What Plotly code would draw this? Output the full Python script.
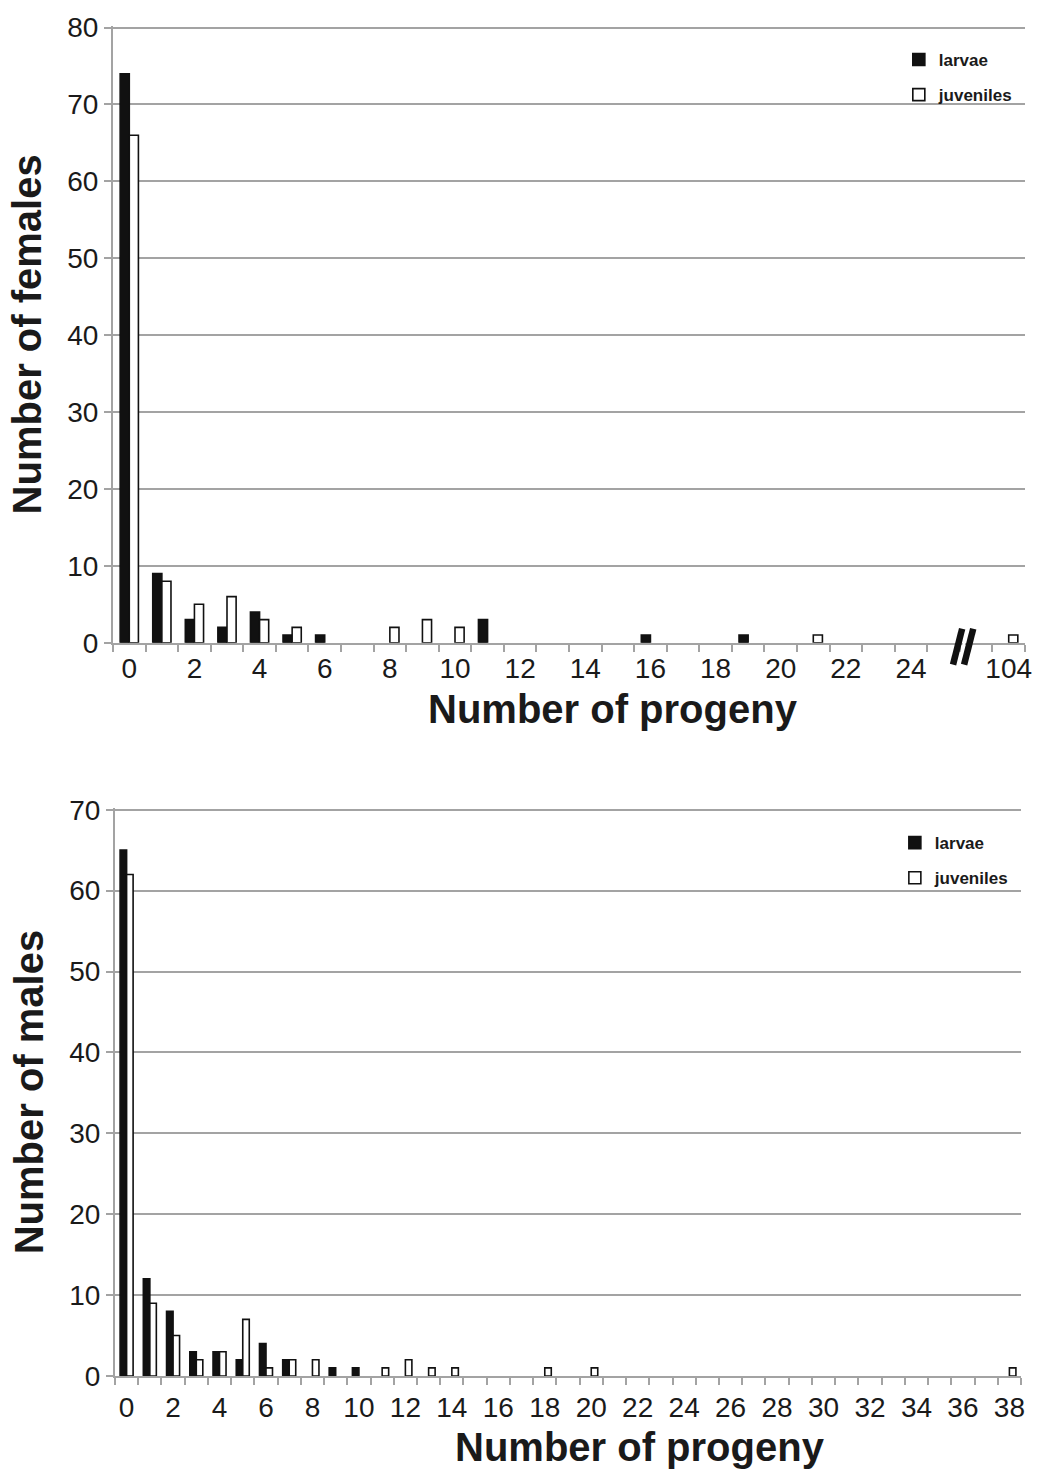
import plotly.graph_objects as go
from plotly.subplots import make_subplots

# ---------------- data ----------------
female_categories = [str(i) for i in range(27)] + ["104"]
female_larvae =    [74, 9, 3, 2, 4, 1, 1, 0, 0, 0, 0, 3, 0, 0, 0, 0, 1, 0, 0, 1, 0, 0, 0, 0, 0, 0, 0, 0]
female_juveniles = [66, 8, 5, 6, 3, 2, 0, 0, 2, 3, 2, 0, 0, 0, 0, 0, 0, 0, 0, 0, 0, 1, 0, 0, 0, 0, 0, 1]

male_categories = [str(i) for i in range(39)]
male_larvae =    [65, 12, 8, 3, 3, 2, 4, 2, 0, 1, 1, 0, 0, 0, 0, 0, 0, 0, 0, 0, 0, 0, 0, 0, 0, 0, 0, 0, 0, 0, 0, 0, 0, 0, 0, 0, 0, 0, 0]
male_juveniles = [62, 9, 5, 2, 3, 7, 1, 2, 2, 0, 0, 1, 2, 1, 1, 0, 0, 0, 1, 0, 1, 0, 0, 0, 0, 0, 0, 0, 0, 0, 0, 0, 0, 0, 0, 0, 0, 0, 1]

female_labels = ["0", "2", "4", "6", "8", "10", "12", "14", "16", "18", "20", "22", "24", "104"]
male_labels = [str(i) for i in range(0, 39, 2)]

# ---------------- style ----------------
FONT = "Liberation Sans, Arial, sans-serif"
TXT = "#1a1a1a"
GRID = "#a3a3a3"

W, H = 1044, 1470
ML, MR, MT, MB = 113, 13, 21, 94
PH = H - MT - MB
PW = W - ML - MR

top_domain = [1 - (640 - MT) / PH, 1.0]
bot_domain = [0.0, 1 - (806 - MT) / PH]
bot_xdomain = [(115 - ML) / PW, (1027 - ML) / PW]


def nz(values):
    # zero counts draw no bar (avoid outlines on the baseline)
    return [v if v else None for v in values]


fig = make_subplots(rows=2, cols=1)

fx = list(range(len(female_categories)))
mx = list(range(len(male_categories)))

bar_line = dict(color="#111111", width=1.6)

fig.add_trace(go.Bar(x=fx, y=nz(female_larvae), name="larvae", marker=dict(color="#111111", line=bar_line),
                     legend="legend", legendgroup="a", customdata=female_categories,
                     hovertemplate="%{customdata}: %{y}<extra>larvae</extra>"), row=1, col=1)
fig.add_trace(go.Bar(x=fx, y=nz(female_juveniles), name="juveniles", marker=dict(color="white", line=bar_line),
                     legend="legend", legendgroup="b", customdata=female_categories,
                     hovertemplate="%{customdata}: %{y}<extra>juveniles</extra>"), row=1, col=1)
fig.add_trace(go.Bar(x=mx, y=nz(male_larvae), name="larvae", marker=dict(color="#111111", line=bar_line),
                     legend="legend2", legendgroup="c", customdata=male_categories,
                     hovertemplate="%{customdata}: %{y}<extra>larvae</extra>"), row=2, col=1)
fig.add_trace(go.Bar(x=mx, y=nz(male_juveniles), name="juveniles", marker=dict(color="white", line=bar_line),
                     legend="legend2", legendgroup="d", customdata=male_categories,
                     hovertemplate="%{customdata}: %{y}<extra>juveniles</extra>"), row=2, col=1)

female_tickvals = [female_categories.index(l) for l in female_labels]
male_tickvals = [male_categories.index(l) for l in male_labels]

common_x = dict(showgrid=False, zeroline=False, showline=True, linecolor=GRID, linewidth=2,
                ticks="", tickfont=dict(family=FONT, size=28, color=TXT), tickmode="array")
fig.update_xaxes(**common_x, range=[-0.5, len(fx) - 0.5], domain=[0, 1],
                 tickvals=female_tickvals, ticktext=female_labels,
                 minor=dict(tickvals=[i - 0.5 for i in range(len(fx) + 1)], ticks="outside",
                            ticklen=7, tickwidth=2, tickcolor=GRID, showgrid=False),
                 row=1, col=1)
fig.update_xaxes(**common_x, range=[-0.5, len(mx) - 0.5], domain=bot_xdomain,
                 tickvals=male_tickvals, ticktext=male_labels, ticklabelstandoff=5,
                 minor=dict(tickvals=[i - 0.5 for i in range(len(mx) + 1)], ticks="outside",
                            ticklen=7, tickwidth=2, tickcolor=GRID, showgrid=False),
                 row=2, col=1)

common_y = dict(showgrid=True, gridcolor=GRID, gridwidth=2, zeroline=False, showline=True,
                linecolor=GRID, linewidth=2, ticks="outside", ticklen=7, tickwidth=2, tickcolor=GRID,
                tickfont=dict(family=FONT, size=28, color=TXT), dtick=10, tick0=0)
fig.update_yaxes(**common_y, range=[0, 80.2], domain=top_domain,
                 title=dict(text="<b>Number of females</b>", font=dict(family=FONT, size=40, color=TXT), standoff=13),
                 row=1, col=1)
fig.update_yaxes(**common_y, range=[0, 70.2], domain=bot_domain,
                 title=dict(text="<b>Number of males</b>", font=dict(family=FONT, size=40, color=TXT), standoff=13),
                 row=2, col=1)

# x axis titles as annotations (placed like the original)
fig.add_annotation(text="<b>Number of progeny</b>", xref="paper", yref="paper",
                   x=(616 - ML) / PW, y=1 - (707 - MT) / PH, showarrow=False,
                   font=dict(family=FONT, size=40, color=TXT), xanchor="center", yanchor="middle")
fig.add_annotation(text="<b>Number of progeny</b>", xref="paper", yref="paper",
                   x=(643 - ML) / PW, y=1 - (1447 - MT) / PH, showarrow=False,
                   font=dict(family=FONT, size=40, color=TXT), xanchor="center", yanchor="middle")

# axis break marks on the female chart
bx = 25.6
y0p = 1 - (662 - MT) / PH
y1p = 1 - (626 - MT) / PH
for dx, col, w in [(-0.17, "#111111", 6.5), (0.17, "#111111", 6.5), (0.0, "white", 2.5)]:
    fig.add_shape(type="line", xref="x", yref="paper",
                  x0=bx + dx - 0.14, x1=bx + dx + 0.14, y0=y0p, y1=y1p,
                  line=dict(color=col, width=w), layer="above")

legend_style = dict(font=dict(family=FONT, size=17, color=TXT, weight="bold"),
                    bgcolor="rgba(0,0,0,0)", tracegroupgap=10, itemwidth=30,
                    xanchor="left", yanchor="top", traceorder="grouped")
fig.update_layout(
    width=W, height=H,
    margin=dict(l=ML, r=MR, t=MT, b=MB),
    paper_bgcolor="white", plot_bgcolor="white",
    barmode="group", bargap=0.44, bargroupgap=0.0,
    legend=dict(**legend_style, x=(904 - ML) / PW, y=1 - (37 - MT) / PH),
    legend2=dict(**legend_style, x=(900 - ML) / PW, y=1 - (823 - MT) / PH),
    font=dict(family=FONT, color=TXT),
)

fig.write_html("out.html")
